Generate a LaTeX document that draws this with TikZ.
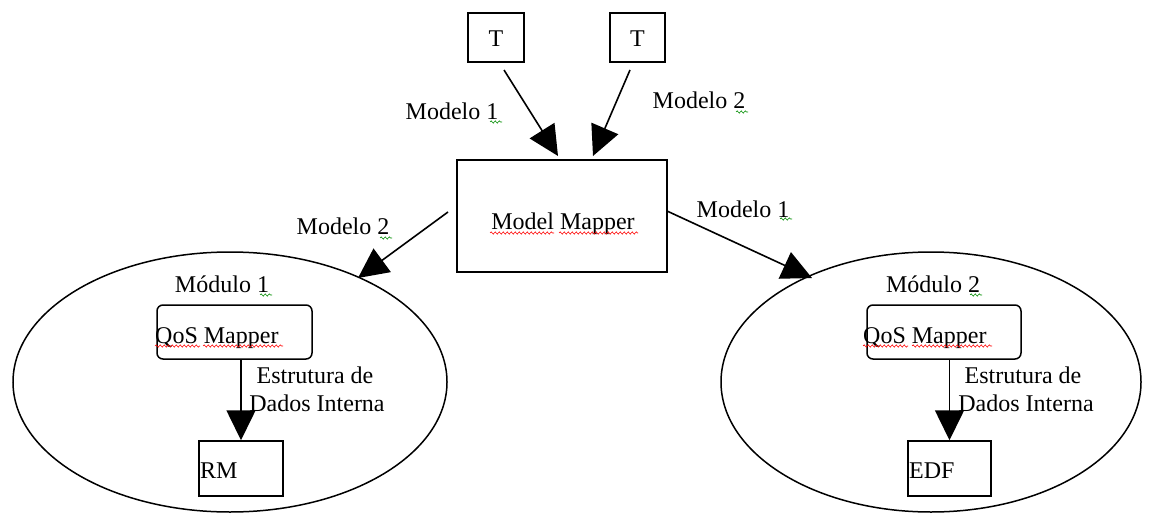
\documentclass[tikz,border=0pt]{standalone}
\usepackage{fontspec}
\setmainfont{Liberation Serif}
\usetikzlibrary{arrows.meta,shapes.geometric,decorations.pathmorphing}
\tikzset{
  lbl/.style={inner sep=0pt, font=\fontsize{24}{27}\selectfont, anchor=base},
  sqbox/.style={draw, line width=1.5pt, inner sep=0pt},
  rbox/.style={draw, line width=1.5pt, rounded corners=6pt, inner sep=0pt},
  modell/.style={draw, line width=1.5pt, ellipse, inner sep=0pt},
  arr/.style={line width=1.6pt, -{Triangle[length=30pt,width=29pt]}},
  redsq/.style={red, line width=0.6pt, decorate, decoration={snake, amplitude=1.1pt, segment length=4pt}},
  grnsq/.style={green!55!black, line width=0.6pt, decorate, decoration={snake, amplitude=1.1pt, segment length=4pt}},
}
\begin{document}
\begin{tikzpicture}[x=1pt,y=-1pt]
\useasboundingbox (0,0) rectangle (1151,514);
% top T boxes
\node[sqbox, minimum width=56pt, minimum height=49pt] (t1) at (496,37.5) {};
\node[lbl] (t1t) at (496,46) {T};
\node[sqbox, minimum width=55pt, minimum height=49pt] (t2) at (637.5,37.5) {};
\node[lbl] (t2t) at (637.5,46) {T};
% model mapper
\node[sqbox, minimum width=210pt, minimum height=112pt] (mm) at (562,216) {};
\node[lbl] (mmt) at (563,229) {Model Mapper};
% ellipses
\node[modell, minimum width=434pt, minimum height=260pt] (e1) at (230,382) {};
\node[modell, minimum width=420pt, minimum height=260pt] (e2) at (931,382) {};
\node[lbl] (m1) at (222,292) {Módulo 1};
\node[lbl] (m2) at (933,292) {Módulo 2};
% QoS boxes
\node[rbox, minimum width=155pt, minimum height=54pt] (q1) at (234.5,332) {};
\node[lbl, anchor=base west] (q1t) at (155,343) {QoS Mapper};
\node[rbox, minimum width=154pt, minimum height=54pt] (q2) at (944,332) {};
\node[lbl, anchor=base west] (q2t) at (863,343) {QoS Mapper};
% RM / EDF
\node[sqbox, minimum width=84pt, minimum height=55pt] (rm) at (241,468.5) {};
\node[lbl, anchor=base west] (rmt) at (200,478) {RM};
\node[sqbox, minimum width=83pt, minimum height=55pt] (edf) at (949.5,468.5) {};
\node[lbl, anchor=base west] (edft) at (909,478) {EDF};
% labels
\node[lbl] (l1) at (452,119) {Modelo 1};
\node[lbl] (l2) at (699,108) {Modelo 2};
\node[lbl] (l3) at (343,234) {Modelo 2};
\node[lbl] (l4) at (743,217) {Modelo 1};
\node[lbl] (d1a) at (315,383) {Estrutura de};
\node[lbl] (d1b) at (317,411) {Dados Interna};
\node[lbl] (d2a) at (1023,383) {Estrutura de};
\node[lbl] (d2b) at (1026,411) {Dados Interna};
% connector endpoints
\coordinate (a1s) at (504,70);
\coordinate (a1e) at (558,156);
\coordinate (a2s) at (630,70);
\coordinate (a2e) at (593,156);
\coordinate (a3s) at (448,212);
\coordinate (a3e) at (358,278);
\coordinate (a4s) at (667,211);
\coordinate (a4e) at (812,278);
% connectors
\draw[arr] (a1s) -- (a1e);
\draw[arr] (a2s) -- (a2e);
\draw[arr] (a3s) -- (a3e);
\draw[arr] (a4s) -- (a4e);
\draw[arr] (q1.south -| rm.north) -- (rm.north);
\draw[arr] (q2.south -| edf.north) -- (edf.north);
% spell-check squiggles
\draw[redsq] (490,233) -- (554,233);
\draw[redsq] (559,233) -- (638,233);
\draw[redsq] (155,346) -- (200,346);
\draw[redsq] (203,346) -- (283,346);
\draw[redsq] (863,346) -- (908,346);
\draw[redsq] (912,346) -- (992,346);
\draw[grnsq] (490,122) -- (502,122);
\draw[grnsq] (736,112) -- (748,112);
\draw[grnsq] (380,238) -- (392,238);
\draw[grnsq] (780,219) -- (792,219);
\draw[grnsq] (260,295) -- (272,295);
\draw[grnsq] (970,295) -- (982,295);
\end{tikzpicture}
\end{document}
